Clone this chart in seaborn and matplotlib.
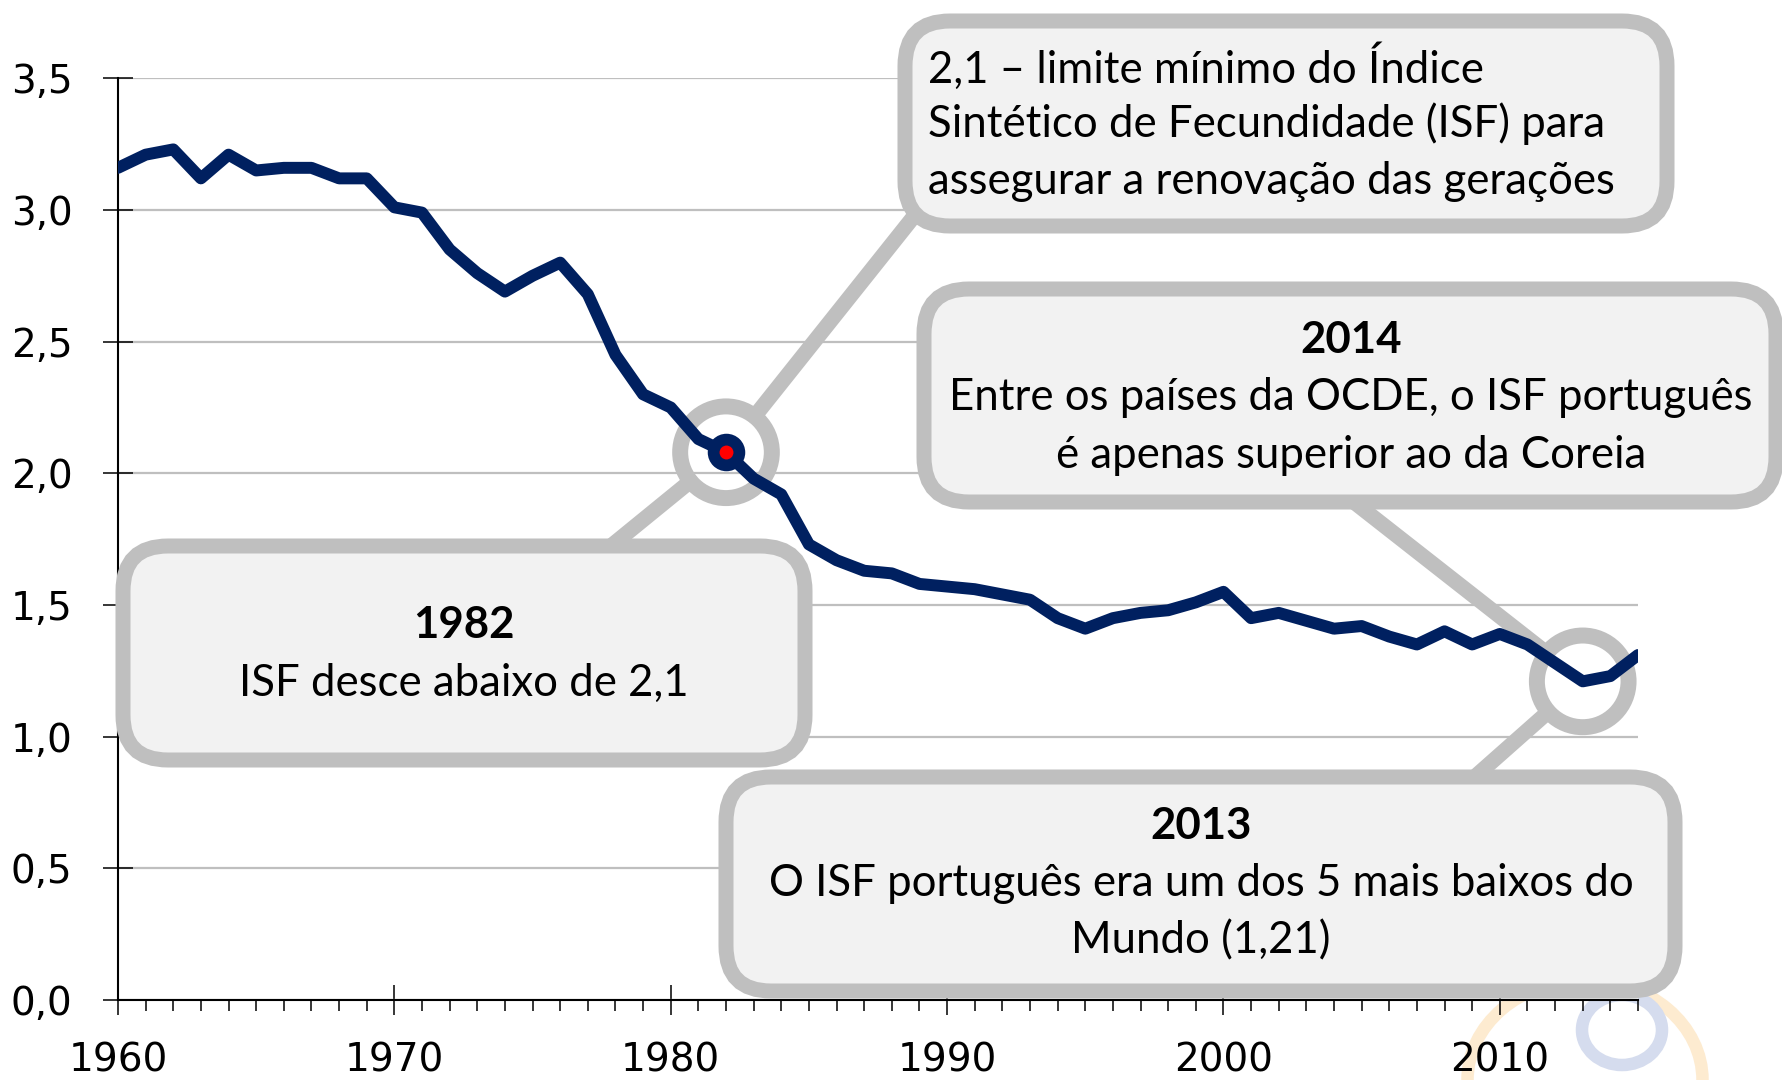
import numpy as np
import pandas as pd
import matplotlib
matplotlib.use('Agg')
import matplotlib.pyplot as plt
import seaborn as sns
from matplotlib.patches import FancyBboxPatch, Ellipse
from matplotlib.transforms import IdentityTransform

###########################
# DATA
###########################
years = list(range(1960, 2016))
isf = [3.16, 3.21, 3.23, 3.12, 3.21, 3.15, 3.16, 3.16, 3.12, 3.12,
       3.01, 2.99, 2.85, 2.76, 2.69, 2.75, 2.80, 2.68, 2.45, 2.30,
       2.25, 2.13, 2.08, 1.98, 1.92, 1.73, 1.67, 1.63, 1.62, 1.58,
       1.57, 1.56, 1.54, 1.52, 1.45, 1.41, 1.45, 1.47, 1.48, 1.51,
       1.55, 1.45, 1.47, 1.44, 1.41, 1.42, 1.38, 1.35, 1.40, 1.35,
       1.39, 1.35, 1.28, 1.21, 1.23, 1.31]
yticks = [0.0, 0.5, 1.0, 1.5, 2.0, 2.5, 3.0, 3.5]
ytick_labels = ['0,0', '0,5', '1,0', '1,5', '2,0', '2,5', '3,0', '3,5']
xticks = [1960, 1970, 1980, 1990, 2000, 2010]
highlight_years = [1982, 2013]

df = pd.DataFrame({'ano': years, 'isf': isf})

navy = '#002060'
grey = '#BFBFBF'
box_fill = '#F2F2F2'
box_font = ['Lato', 'DejaVu Sans']

###########################
# FIGURE
###########################
sns.set_style('white')
plt.rcParams['font.family'] = ['DejaVu Sans']

W, H = 1782, 1080
fig = plt.figure(figsize=(W / 100, H / 100), dpi=100)
ax = fig.add_axes([118 / W, 80 / H, 1520 / W, 921.7 / H])

sns.lineplot(data=df, x='ano', y='isf', color=navy, lw=8.6, ax=ax, zorder=4)

ax.set_xlim(1960, 2015)
ax.set_ylim(0, 3.5)
ax.set_xticks(xticks)
ax.set_xticks(years, minor=True)
ax.set_yticks(yticks)
ax.set_yticklabels(ytick_labels)
ax.set_xlabel('')
ax.set_ylabel('')

ax.tick_params(axis='both', which='major', direction='inout', length=21.6,
               width=1.1, labelsize=28, colors='black', bottom=True, left=True)
ax.tick_params(axis='y', which='major', pad=22)
ax.tick_params(axis='x', which='major', pad=19)
ax.tick_params(axis='x', which='minor', direction='out', length=8, width=1.1,
               bottom=True, colors='black')
for s in ['top', 'right']:
    ax.spines[s].set_visible(False)
for s in ['left', 'bottom']:
    ax.spines[s].set_color('black')
    ax.spines[s].set_linewidth(1.5)
ax.grid(axis='y', color=grey, lw=1.6)
ax.set_axisbelow(True)

# highlighted points: grey rings + marker at 1982
hl = df[df['ano'].isin(highlight_years)]
ax.scatter(hl['ano'], hl['isf'], s=66 ** 2, facecolors='none', edgecolors=grey,
           linewidths=11.5, zorder=3, clip_on=False)
p82 = df[df['ano'] == 1982]
ax.scatter(p82['ano'], p82['isf'], s=27 ** 2, c=navy, linewidths=0, zorder=6)
ax.scatter(p82['ano'], p82['isf'], s=10 ** 2, c='red', linewidths=0, zorder=7)

# connectors from the rings to the call-out boxes (box end in pixels)
x82, y82 = 1982, p82['isf'].iloc[0]
p13 = df[df['ano'] == 2013]
x13, y13 = 2013, p13['isf'].iloc[0]
connectors = [((x82, y82), (915, 215)),
              ((x82, y82), (600, 555)),
              ((x13, y13), (1345, 495)),
              ((x13, y13), (1460, 790))]
for xy, (px, py) in connectors:
    ax.annotate('', xy=xy, xycoords='data', xytext=(px / W, 1 - py / H),
                textcoords='figure fraction', annotation_clip=False, zorder=2,
                arrowprops=dict(arrowstyle='-', color=grey, lw=11,
                                shrinkA=0, shrinkB=33))


# call-out boxes, pixel coordinates with top-left origin
def callout(x0, y0, x1, y1):
    b = FancyBboxPatch((x0, H - y1), x1 - x0, y1 - y0,
                       boxstyle='round,pad=0,rounding_size=45',
                       transform=IdentityTransform(), fc=box_fill, ec=grey,
                       lw=10.8, zorder=5)
    fig.add_artist(b)


def txt(x, y, s, bold=False, ha='center'):
    fig.text(x / W, 1 - y / H, s, ha=ha, va='center', fontsize=31.5,
             fontweight='bold' if bold else 'normal', family=box_font,
             color='black', zorder=6)


callout(905, 21, 1667, 226)
txt(928, 67, '2,1 – limite mínimo do Índice', ha='left')
txt(928, 124, 'Sintético de Fecundidade (ISF) para', ha='left')
txt(928, 181, 'assegurar a renovação das gerações', ha='left')

callout(924, 289, 1776, 502)
txt(1351, 340, '2014', bold=True)
txt(1351, 398, 'Entre os países da OCDE, o ISF português')
txt(1351, 455, 'é apenas superior ao da Coreia')

callout(123, 546, 805, 760)
txt(464, 625, '1982', bold=True)
txt(464, 683, 'ISF desce abaixo de 2,1')

callout(726, 777, 1675, 991)
txt(1201, 826, '2013', bold=True)
txt(1201, 884, 'O ISF português era um dos 5 mais baixos do')
txt(1201, 941, 'Mundo (1,21)')

# faint logo watermark in the corner
e1 = Ellipse((1585, H - 1080), 235, 200, transform=IdentityTransform(),
             fill=False, ec='#FDEBD0', lw=9, zorder=-1)
e2 = Ellipse((1622, H - 1030), 80, 70, transform=IdentityTransform(),
             fill=False, ec='#D5DCEE', lw=9, zorder=-1)
fig.add_artist(e1)
fig.add_artist(e2)

fig.savefig('out.png', dpi=100)
